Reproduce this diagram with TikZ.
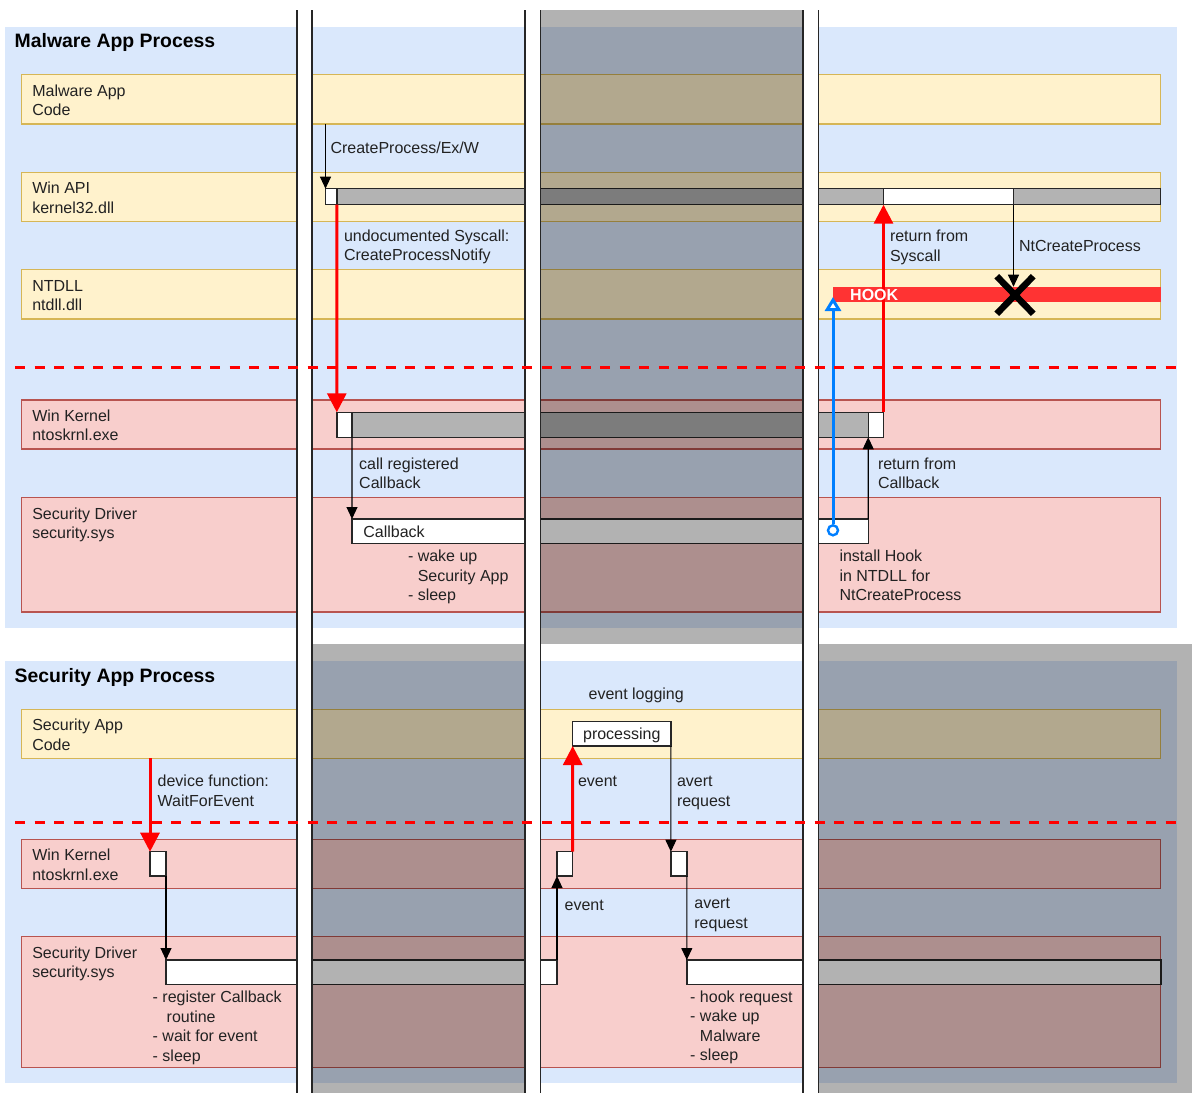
\documentclass[tikz,border=0pt]{standalone}
\usepackage{fontspec}
\setmainfont{Liberation Sans}
\usetikzlibrary{fit,arrows.meta,shapes.misc}

\definecolor{procblue}{HTML}{DAE8FC}
\definecolor{userfill}{HTML}{FFF2CC}
\definecolor{userline}{HTML}{D6B656}
\definecolor{kernfill}{HTML}{F8CECC}
\definecolor{kernline}{HTML}{B85450}
\definecolor{idlegray}{HTML}{B3B3B3}
\definecolor{hookred}{HTML}{FF3333}
\definecolor{hookblue}{HTML}{007FFF}
\definecolor{inkc}{HTML}{222222}

\begin{document}
\begin{tikzpicture}[x=1pt,y=-1pt,
  box/.style={inner sep=0pt,outer sep=0pt},
  panel/.style={box,fill=procblue},
  urow/.style={box,fill=userfill,draw=userline,line width=1.3pt},
  krow/.style={box,fill=kernfill,draw=kernline,line width=1.3pt},
  actw/.style={box,fill=white,draw=black!85,line width=1.4pt},
  actg/.style={box,fill=idlegray,draw=black!85,line width=1.4pt},
  txt/.style={inner sep=0pt,outer sep=0pt,anchor=north west,align=left,text=inkc,
    font=\fontsize{16}{19.5}\selectfont,yshift=13.65pt},
  ttl/.style={inner sep=0pt,anchor=base west,text=black,font=\bfseries\fontsize{19.4}{23}\selectfont},
  shade/.style={fill=black,fill opacity=0.3},
  lane/.style={draw=black!85,line width=1.4pt},
  ring/.style={draw=red,line width=3pt,dash pattern=on 10pt off 9.5pt},
  call/.style={draw=black,line width=1.1pt,-{Triangle[length=12pt,width=11pt]}},
  sys/.style={draw=red,line width=3pt,-{Triangle[length=19pt,width=19pt]}},
  hookarr/.style={draw=hookblue,line width=3pt,-{Triangle[open,length=14pt,width=16pt,fill=white]}}
]
\useasboundingbox (0,0) rectangle (1192,1093);
\fill[white] (0,0) rectangle (1192,1093);

% process containers
\node[panel,fit={(5,26.5)(1177,627.7)}] (mproc) {};
\node[panel,fit={(5,660.7)(1177,1083.3)}] (sproc) {};
\node[ttl] (mtitle) at (14.5,47) {Malware App Process};
\node[ttl] (stitle) at (14.5,682.7) {Security App Process};

% layers of the malware process
\node[urow,fit={(21.3,74.3)(1160.7,124)}] (mcode) {};
\node[urow,fit={(21.3,172.3)(1160.7,221.3)}] (wapi) {};
\node[urow,fit={(21.3,269.7)(1160.7,319)}] (ntdll) {};
\node[krow,fit={(21.3,400)(1160.7,449)}] (mkern) {};
\node[krow,fit={(21.3,497.7)(1160.7,612)}] (mdrv) {};
% layers of the security process
\node[urow,fit={(21.3,709.3)(1160.7,758.3)}] (scode) {};
\node[krow,fit={(21.3,839.3)(1160.7,888.3)}] (skern) {};
\node[krow,fit={(21.3,936.7)(1160.7,1067.3)}] (sdrv) {};

\node[txt] (lmcode) at (32.3,96) {\strut Malware App\\Code};
\node[txt] (lwapi) at (32.3,193.5) {\strut Win API\\kernel32.dll};
\node[txt] (lntdll) at (32.3,291) {\strut NTDLL\\ntdll.dll};
\node[txt] (lmkern) at (32.3,421) {\strut Win Kernel\\ntoskrnl.exe};
\node[txt] (lmdrv) at (32.3,519) {\strut Security Driver\\security.sys};
\node[txt] (lscode) at (32.3,730.5) {\strut Security App\\Code};
\node[txt] (lskern) at (32.3,860.5) {\strut Win Kernel\\ntoskrnl.exe};
\node[txt] (lsdrv) at (32.3,958) {\strut Security Driver\\security.sys};

% activations: Win API
\node[actw,fit={(325.5,188.7)(336.8,204.7)}] (wA) {};
\node[actg,fit={(336.8,188.7)(883.5,204.7)}] (wG1) {};
\node[actw,fit={(883.5,188.7)(1013.5,204.7)}] (wapiW) {};
\node[actg,fit={(1013.5,188.7)(1160.7,204.7)}] (wG2) {};
% activations: kernel and driver (malware side)
\node[actw,fit={(336.8,412.3)(352,437.3)}] (kL) {};
\node[actg,fit={(352,412.3)(868.2,437.3)}] (kG) {};
\node[actw,fit={(868.2,412.3)(883.5,437.3)}] (kR) {};
\node[actw,fit={(352,519)(868.2,543.7)}] (cb) {};
\node[txt] (lcb) at (363.4,537.3) {\strut Callback};

% hook in ntdll
\node[box,fill=hookred,fit={(832.7,286.7)(1160.7,302.3)}] (hook) {};

% activations: security process
\node[actw,fit={(572.7,721.3)(670.9,746)}] (proc) {};
\node[inner sep=0pt,anchor=base,text=inkc,font=\fontsize{16}{19.5}\selectfont] (lproc) at (621.8,739) {processing};
\node[actw,fit={(150,851.7)(166,876)}] (bkL) {};
\node[actw,fit={(557,851.7)(572.7,876)}] (bkM) {};
\node[actw,fit={(670.9,851.7)(686.8,876)}] (bkR) {};
\node[actw,fit={(166,960)(557,984.3)}] (sb1) {};
\node[actw,fit={(686.8,960)(1160.8,984.3)}] (sb2) {};

% calls in the malware process
\draw[call] (wA.north west |- mcode.south) -- (wA.north west);
\node[txt] (lcp) at (330.5,153.3) {\strut CreateProcess/Ex/W};
\draw[sys] (wA.south east) -- (kL.north west);
\node[txt] (lsys) at (344,241) {\strut undocumented Syscall:\\CreateProcessNotify};
\draw[call] (kL.south east) -- (cb.north west);
\node[txt] (lcall) at (359.2,469.3) {\strut call registered\\Callback};
\node[txt] (lwake) at (408,561.7) {\strut - wake up\\\phantom{- }Security App\\- sleep};
\draw[call] (cb.north east) -- (kR.south west);
\node[txt] (lretcb) at (878,469.3) {\strut return from\\Callback};
\draw[sys] (kR.north east) -- (kR.north east |- wapiW.south);
\node[txt] (lretsys) at (890,241.5) {\strut return from\\Syscall};
\draw[call] (wapiW.south east) -- (wapiW.south east |- hook.north);
\node[txt] (lnt) at (1019,251) {\strut NtCreateProcess};
\node[cross out,draw=black,line width=6.5pt,minimum width=30pt,minimum height=31pt,inner sep=0pt] (xm) at (1015,295) {};
\node[circle,draw=hookblue,fill=white,line width=2.4pt,minimum size=10pt,inner sep=0pt] (hc) at (833,530.3) {};
\coordinate (hooktip) at (833,297);
\draw[hookarr] (hc) -- (hooktip);
\node[txt] (linst) at (839.5,561.7) {\strut install Hook\\in NTDLL for\\NtCreateProcess};
\node[inner sep=0pt,anchor=base west,text=white,font=\bfseries\fontsize{16}{19}\selectfont] (lhook) at (850,300) {HOOK};

% calls in the security process
\draw[sys] (bkL.north west |- scode.south) -- (bkL.north west);
\node[txt] (ldev) at (157.7,786.7) {\strut device function:\\WaitForEvent};
\draw[call] (bkL.south east) -- (sb1.north west);
\node[txt] (lreg) at (152.7,1002.7) {\strut - register Callback\\\hspace*{14pt}routine\\- wait for event\\- sleep};
\draw[call] (sb1.north east) -- (bkM.south west);
\node[txt] (lev1) at (564.6,910) {\strut event};
\draw[sys] (bkM.north east) -- (proc.south west);
\node[txt] (lev2) at (578,786.7) {\strut event};
\node[txt] (llog) at (588.6,699) {\strut event logging};
\draw[call] (proc.south east) -- (bkR.north west);
\node[txt] (lav1) at (677,786.7) {\strut avert\\request};
\draw[call] (bkR.south east) -- (sb2.north west);
\node[txt] (lav2) at (694.4,908.7) {\strut avert\\request};
\node[txt] (lhookreq) at (690.2,1002.3) {\strut - hook request\\- wake up\\\phantom{- }Malware\\- sleep};

% idle time slices
\fill[shade] (540.5,10) rectangle (803,644.3);
\fill[shade] (312,644.3) rectangle (525,1093);
\fill[shade] (818.5,644.3) rectangle (1192,1093);

% context switch gaps
\fill[white] (297,10) rectangle (312,1093);
\fill[white] (525,10) rectangle (540.5,1093);
\fill[white] (803,10) rectangle (818.5,1093);
\foreach \xx in {297,312,525,540.5,803,818.5}
  \draw[lane] (\xx,10) -- (\xx,1093);

% user / kernel boundary
\draw[ring] (15,367.7) -- (1177,367.7);
\draw[ring] (15,822.7) -- (1177,822.7);
\end{tikzpicture}
\end{document}
